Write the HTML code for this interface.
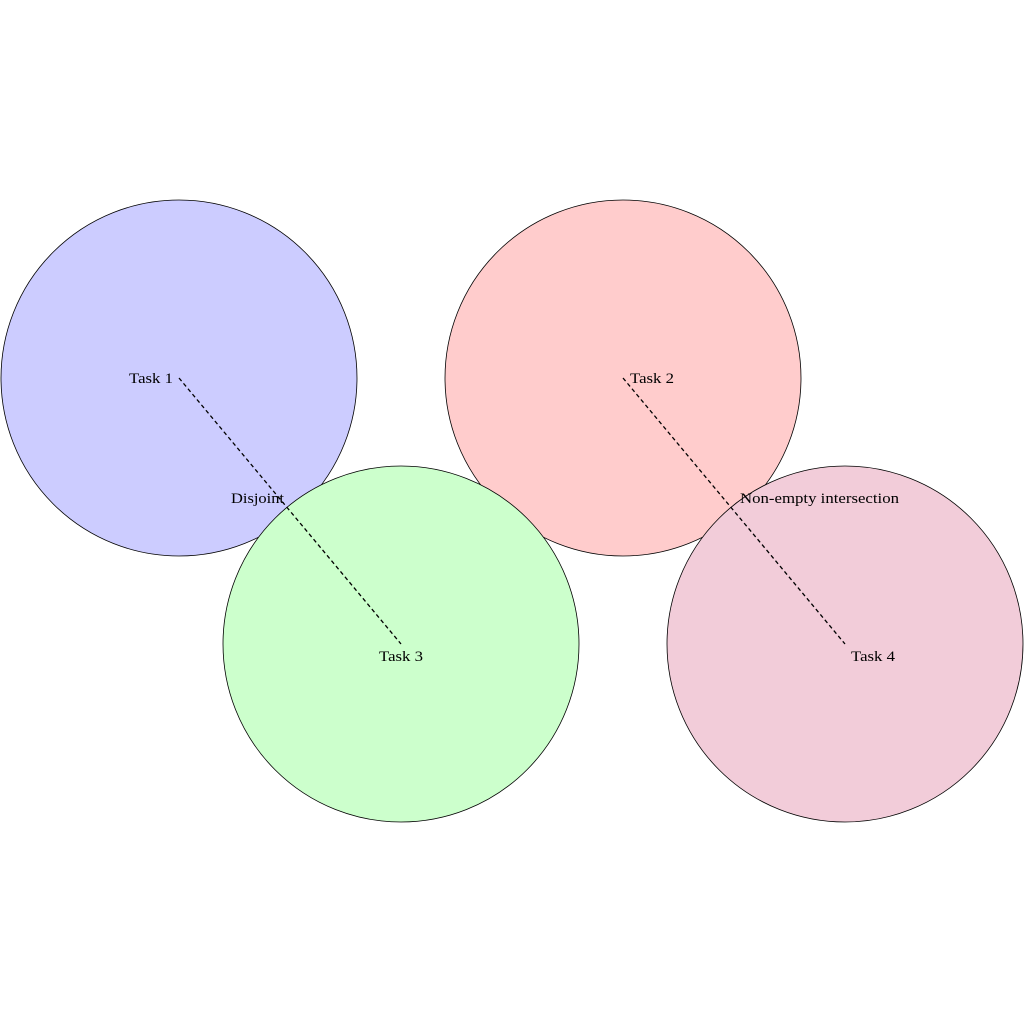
<!DOCTYPE html>
<html><head><style>body{margin:0;background:#fff}</style></head><body>
<svg width="1024" height="1024" xmlns="http://www.w3.org/2000/svg" font-family="Liberation Serif, serif" font-size="14.5">
<rect width="1024" height="1024" fill="#fff"/>
<circle cx="179" cy="378" r="178" fill="#ccccff" stroke="#000" stroke-width="0.8"/>
<circle cx="623" cy="378" r="178" fill="#ffcccc" stroke="#000" stroke-width="0.8"/>
<circle cx="401" cy="644" r="178" fill="#ccffcc" stroke="#000" stroke-width="0.8"/>
<circle cx="845" cy="644" r="178" fill="#f2ccd9" stroke="#000" stroke-width="0.8"/>
<line x1="179" y1="378" x2="401" y2="644" stroke="#000" stroke-width="1.3" stroke-dasharray="4,3"/>
<line x1="623" y1="378" x2="845" y2="644" stroke="#000" stroke-width="1.3" stroke-dasharray="4,3"/>
<text x="129" y="383" textLength="44" lengthAdjust="spacingAndGlyphs">Task 1</text>
<text x="630" y="383" textLength="44" lengthAdjust="spacingAndGlyphs">Task 2</text>
<text x="379" y="661" textLength="44" lengthAdjust="spacingAndGlyphs">Task 3</text>
<text x="851" y="661" textLength="44" lengthAdjust="spacingAndGlyphs">Task 4</text>
<text x="231" y="503" textLength="53" lengthAdjust="spacingAndGlyphs">Disjoint</text>
<text x="740" y="503" textLength="159" lengthAdjust="spacingAndGlyphs">Non-empty intersection</text>
</svg>
</body></html>
